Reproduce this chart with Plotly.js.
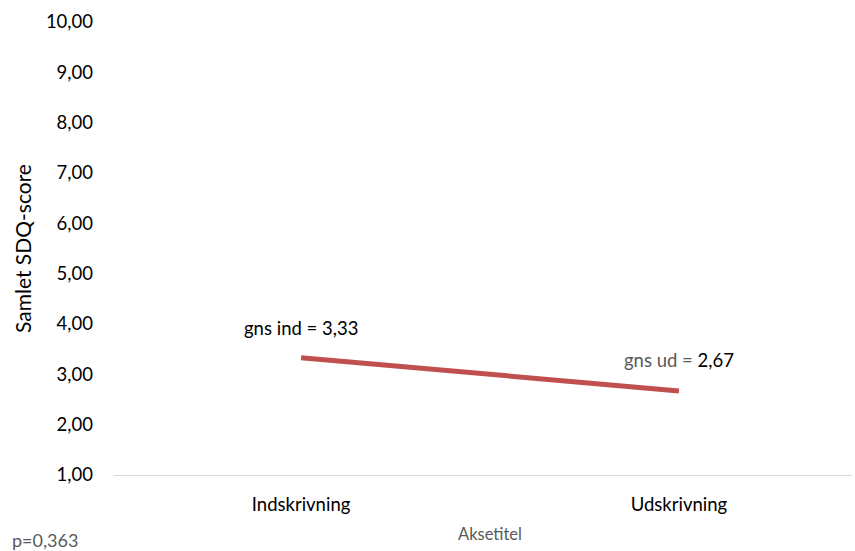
<!DOCTYPE html>
<html>
<head>
<meta charset="utf-8">
<script src="https://cdn.plot.ly/plotly-3.0.1.min.js"></script>
<style>html,body{margin:0;padding:0;background:#fff;}#chart{width:855px;height:551px;}</style>
</head>
<body>
<div id="chart"></div>
<script>
const categories = ["Indskrivning", "Udskrivning"];
const values = [3.33, 2.67];
const labelPrefixes = ["gns ind = ", "gns ud = "];
const yTickValues = [1, 2, 3, 4, 5, 6, 7, 8, 9, 10];
const pValueText = "p=0,363";
const yTitle = "Samlet SDQ-score";
const xTitle = "Aksetitel";

const FONT = "Lato, 'Open Sans', sans-serif";
function fmt(v){ return v.toFixed(2).replace('.', ','); }

const trace = {
  x: categories,
  y: values,
  type: 'scatter',
  mode: 'lines',
  line: {color: '#C0504D', width: 5},
  hoverinfo: 'skip'
};

const annotations = [
  {x: categories[0], y: values[0], xref: 'x', yref: 'y', showarrow: false,
   text: labelPrefixes[0] + fmt(values[0]), yshift: 30,
   font: {family: FONT, size: 18.5, color: '#000'}},
  {x: categories[1], y: values[1], xref: 'x', yref: 'y', showarrow: false,
   text: '<span style="color:#595959">' + labelPrefixes[1] + '</span>' + fmt(values[1]), yshift: 31,
   font: {family: FONT, size: 18.5, color: '#000'}}
];
const W = 855, H = 551, L = 114, R = 3, T = 22, B = 76;
const pw = W - L - R, ph = H - T - B;
annotations.push({x: (10 - L) / pw, y: (H - B - 540) / ph, xref: 'paper', yref: 'paper', showarrow: false,
  text: pValueText, xanchor: 'left', yanchor: 'middle', font: {family: FONT, size: 18, color: '#595959'}});
annotations.push({x: (22 - L) / pw, y: (H - B - 249) / ph, xref: 'paper', yref: 'paper', showarrow: false,
  xanchor: 'center', yanchor: 'middle',
  text: yTitle, textangle: -90, font: {family: FONT, size: 21, color: '#000'}});
annotations.push({x: (490 - L) / pw, y: (H - B - 534) / ph, xref: 'paper', yref: 'paper', showarrow: false,
  xanchor: 'center', yanchor: 'middle',
  text: xTitle, font: {family: FONT, size: 16.5, color: '#595959'}});

const layout = {
  width: W, height: H,
  margin: {l: L, r: R, t: T, b: B},
  paper_bgcolor: '#fff', plot_bgcolor: '#fff',
  showlegend: false,
  separators: ',.',
  xaxis: {
    type: 'category',
    range: [-0.495, 1.458],
    showgrid: false, zeroline: false,
    showline: true, linecolor: '#D9D9D9', linewidth: 1,
    ticks: '', ticklabelstandoff: 13,
    tickfont: {family: FONT, size: 18.5, color: '#000'}
  },
  yaxis: {
    range: [1, 10],
    tickvals: yTickValues,
    tickformat: '.2f',
    showgrid: false, zeroline: false, showline: false,
    ticks: '', ticklabelstandoff: 20,
    tickfont: {family: FONT, size: 18.5, color: '#000'}
  },
  annotations: annotations
};

Plotly.newPlot('chart', [trace], layout, {displayModeBar: false, staticPlot: true});
</script>
</body>
</html>
